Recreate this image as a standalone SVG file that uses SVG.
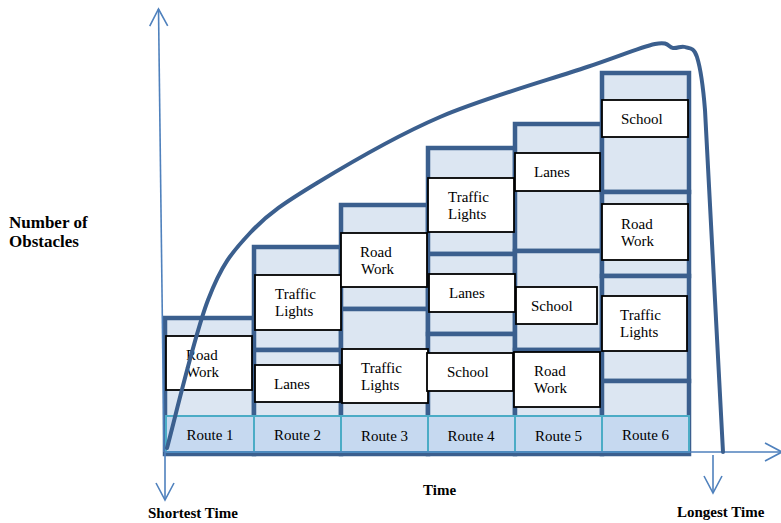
<svg xmlns="http://www.w3.org/2000/svg" width="781" height="523" viewBox="0 0 781 523">
<defs>
<style>
.blk{fill:#dce6f2;stroke:#3b5f8e;stroke-width:4.5}
.box{fill:#ffffff;stroke:#000000;stroke-width:1.8}
.cell{fill:#c6d9f0;stroke:#4bacc6;stroke-width:2}
.t{font-family:"Liberation Serif","Times New Roman",serif;font-size:15px;fill:#000}
.rt{font-family:"Liberation Serif","Times New Roman",serif;font-size:15px;fill:#000;text-anchor:middle}
.b{font-family:"Liberation Serif","Times New Roman",serif;font-weight:bold;font-size:15px;fill:#000}
.ax{fill:none;stroke:#4f81bd;stroke-width:1.6}
.curve{fill:none;stroke:#3b5f8e;stroke-width:4;stroke-linecap:round;stroke-linejoin:round}
</style>
<marker id="arr" markerUnits="userSpaceOnUse" markerWidth="24" markerHeight="24" viewBox="-20 -12 24 24" refX="0" refY="0" orient="auto">
<path d="M-17,-9 L0,0 L-17,9" fill="none" stroke="#4f81bd" stroke-width="1.6"/>
</marker>
</defs>
<rect width="781" height="523" fill="#ffffff"/>

<g id="columns">
<line x1="165" y1="454" x2="689" y2="454" stroke="#3b5f8e" stroke-width="4"/>
<rect class="blk" x="165" y="318" width="89" height="136"/>
<rect class="blk" x="254" y="247" width="87" height="103"/>
<rect class="blk" x="254" y="350" width="87" height="104"/>
<rect class="blk" x="341" y="205" width="87" height="104"/>
<rect class="blk" x="341" y="309" width="87" height="145"/>
<rect class="blk" x="428" y="148" width="87" height="106"/>
<rect class="blk" x="428" y="254" width="87" height="80"/>
<rect class="blk" x="428" y="334" width="87" height="120"/>
<rect class="blk" x="515" y="124" width="87" height="127"/>
<rect class="blk" x="515" y="251" width="87" height="99"/>
<rect class="blk" x="515" y="350" width="87" height="104"/>
<rect class="blk" x="602" y="73" width="87" height="119"/>
<rect class="blk" x="602" y="192" width="87" height="84"/>
<rect class="blk" x="602" y="276" width="87" height="105"/>
<rect class="blk" x="602" y="381" width="87" height="73"/>
</g>

<g id="r1-roadwork"><rect class="box" x="166" y="336" width="86" height="54"/><text class="t" x="186" y="360">Road</text><text class="t" x="186" y="377">Work</text></g>
<g id="r2-traffic"><rect class="box" x="255" y="275" width="86" height="55"/><text class="t" x="275" y="299">Traffic</text><text class="t" x="275" y="316">Lights</text></g>
<g id="r2-lanes"><rect class="box" x="255" y="365" width="85" height="37"/><text class="t" x="274" y="389">Lanes</text></g>
<g id="r3-roadwork"><rect class="box" x="341" y="233" width="86" height="54"/><text class="t" x="360" y="257">Road</text><text class="t" x="361" y="274">Work</text></g>
<g id="r3-traffic"><rect class="box" x="342" y="349" width="86" height="54"/><text class="t" x="361" y="373">Traffic</text><text class="t" x="361" y="390">Lights</text></g>
<g id="r4-traffic"><rect class="box" x="428" y="178" width="86" height="54"/><text class="t" x="448" y="202">Traffic</text><text class="t" x="448" y="219">Lights</text></g>
<g id="r4-lanes"><rect class="box" x="429" y="274" width="86" height="38"/><text class="t" x="449" y="298">Lanes</text></g>
<g id="r4-school"><rect class="box" x="427" y="353" width="86" height="38"/><text class="t" x="447" y="377">School</text></g>
<g id="r5-lanes"><rect class="box" x="515" y="153" width="85" height="38"/><text class="t" x="534" y="177">Lanes</text></g>
<g id="r5-school"><rect class="box" x="516" y="287" width="81" height="37"/><text class="t" x="531" y="311">School</text></g>
<g id="r5-roadwork"><rect class="box" x="514" y="352" width="86" height="55"/><text class="t" x="534" y="376">Road</text><text class="t" x="534" y="393">Work</text></g>
<g id="r6-school"><rect class="box" x="602" y="100" width="86" height="37"/><text class="t" x="621" y="124">School</text></g>
<g id="r6-roadwork"><rect class="box" x="602" y="204" width="86" height="56"/><text class="t" x="621" y="229">Road</text><text class="t" x="621" y="246">Work</text></g>
<g id="r6-traffic"><rect class="box" x="602" y="296" width="85" height="55"/><text class="t" x="620" y="320">Traffic</text><text class="t" x="620" y="337">Lights</text></g>

<g id="route1"><rect class="cell" x="166" y="416" width="88" height="36"/><text class="rt" x="210" y="440">Route 1</text></g>
<g id="route2"><rect class="cell" x="254" y="416" width="87" height="36"/><text class="rt" x="297.5" y="440">Route 2</text></g>
<g id="route3"><rect class="cell" x="341" y="416" width="87" height="36"/><text class="rt" x="384.5" y="441">Route 3</text></g>
<g id="route4"><rect class="cell" x="428" y="416" width="87" height="36"/><text class="rt" x="471" y="441">Route 4</text></g>
<g id="route5"><rect class="cell" x="515" y="416" width="87" height="36"/><text class="rt" x="558.5" y="441">Route 5</text></g>
<g id="route6"><rect class="cell" x="602" y="416" width="87" height="36"/><text class="rt" x="645.5" y="440">Route 6</text></g>

<g id="connectors">
<line class="ax" x1="164" y1="452" x2="158.5" y2="9" marker-end="url(#arr)"/>
<line class="ax" x1="165" y1="452" x2="165" y2="500" marker-end="url(#arr)"/>
<line class="ax" x1="165" y1="452" x2="782" y2="452" marker-end="url(#arr)"/>
<line class="ax" x1="713" y1="455" x2="713" y2="493" marker-end="url(#arr)"/>
<path class="curve" d="M167,448 C173.8,423.3 194.2,335.8 208,300 C221.8,264.2 231.8,252.5 250,233 C268.2,213.5 285.3,202.3 317,183 C348.7,163.7 395,136.3 440,117 C485,97.7 551.2,79.2 587,67 C622.8,54.8 640.7,47.2 655,44 C669.3,40.8 668,47.5 673,48 C678,48.5 681,45.5 685,47 C689,48.5 693.7,46.5 697,57 C700.3,67.5 703,85 705,110 L723,452"/>
</g>

<g id="labels">
<text class="b" x="9" y="228" style="font-size:17px">Number of</text>
<text class="b" x="9" y="247" style="font-size:17px">Obstacles</text>
<text class="b" x="423" y="495">Time</text>
<text class="b" x="148" y="518">Shortest Time</text>
<text class="b" x="677" y="517">Longest Time</text>
</g>
</svg>
